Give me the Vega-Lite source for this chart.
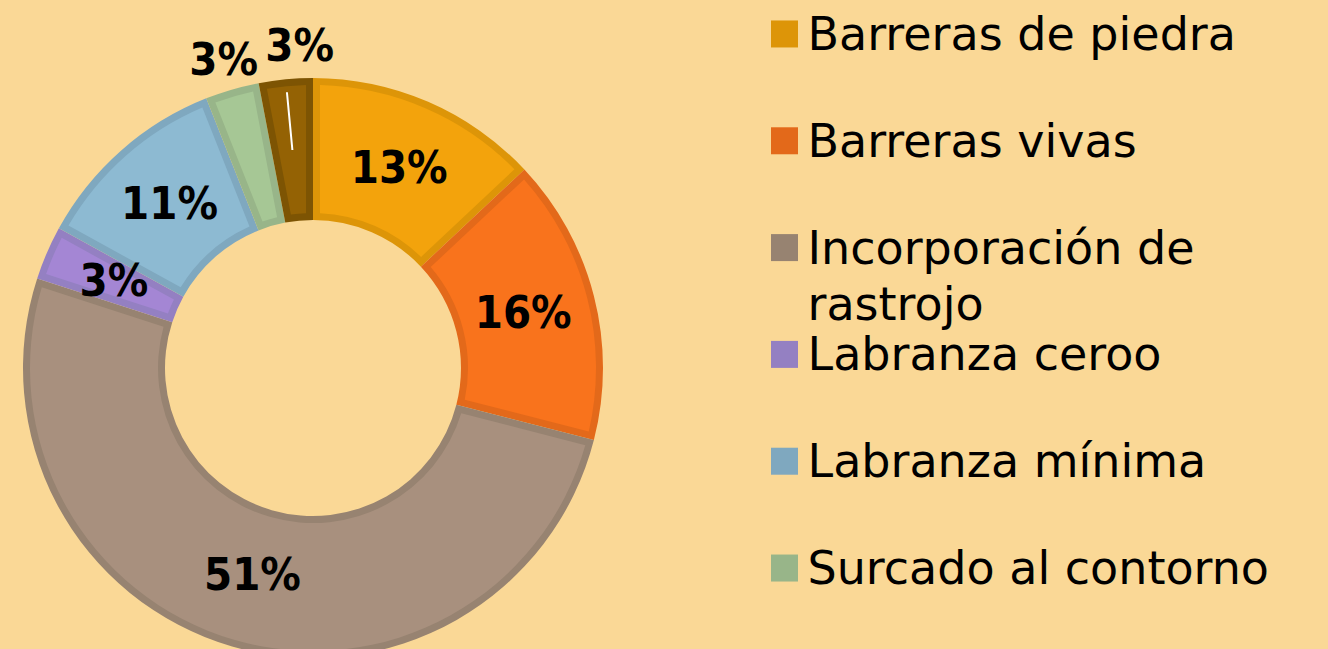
{
  "$schema": "https://vega.github.io/schema/vega-lite/v6.json",
  "padding": {"left": 0, "top": 0, "right": 75, "bottom": 0},
  "autosize": {"type": "pad"},
  "background": "#FAD896",
  "spacing": 144,
  "bounds": "flush",
  "config": {"view": {"stroke": null}},
  "datasets": {
    "practicas": [
      {"categoria": "Barreras de piedra", "porcentaje": 0.13, "orden": 1},
      {"categoria": "Barreras vivas", "porcentaje": 0.16, "orden": 2},
      {"categoria": "Incorporación de rastrojo", "porcentaje": 0.51, "orden": 3},
      {"categoria": "Labranza ceroo", "porcentaje": 0.03, "orden": 4},
      {"categoria": "Labranza mínima", "porcentaje": 0.11, "orden": 5},
      {"categoria": "Surcado al contorno", "porcentaje": 0.03, "orden": 6},
      {"categoria": "Otros", "porcentaje": 0.03, "orden": 7}
    ]
  },
  "hconcat": [
    {
      "width": 626,
      "height": 736,
      "data": {"name": "practicas"},
      "encoding": {
        "theta": {"field": "porcentaje", "type": "quantitative", "stack": true},
        "order": {"field": "orden", "type": "quantitative"}
      },
      "layer": [
        {
          "mark": {"type": "arc", "radius": 290, "radius2": 148},
          "encoding": {
            "color": {
              "field": "categoria",
              "type": "nominal",
              "scale": {
                "domain": ["Barreras de piedra", "Barreras vivas", "Incorporación de rastrojo", "Labranza ceroo", "Labranza mínima", "Surcado al contorno", "Otros"],
                "range": ["#DD9508", "#E3691A", "#978371", "#9480C2", "#7FA8BF", "#98B589", "#7D5403"]
              },
              "legend": null
            }
          }
        },
        {
          "mark": {"type": "arc", "radius": 283, "radius2": 155, "padAngle": 0.0434},
          "encoding": {
            "fill": {
              "field": "categoria",
              "type": "nominal",
              "scale": {
                "domain": ["Barreras de piedra", "Barreras vivas", "Incorporación de rastrojo", "Labranza ceroo", "Labranza mínima", "Surcado al contorno", "Otros"],
                "range": ["#F3A30C", "#F9731C", "#A8907E", "#A486D4", "#8DBAD2", "#A6C795", "#946204"]
              },
              "legend": null
            }
          }
        },
        {
          "mark": {"type": "arc", "radius": 277, "radius2": 219, "padAngle": 1, "fillOpacity": 0, "stroke": "#FFFFFF", "strokeWidth": 2},
          "encoding": {
            "strokeOpacity": {"condition": {"test": "datum.orden == 7", "value": 1}, "value": 0}
          }
        },
        {
          "mark": {"type": "text", "radius": 217, "font": "DejaVu Sans Condensed", "fontSize": 45, "fontWeight": "bold", "color": "#000000"},
          "encoding": {
            "text": {"condition": {"test": "datum.orden >= 6", "value": ""}, "field": "porcentaje", "type": "quantitative", "format": ".0%"}
          }
        },
        {
          "mark": {"type": "text", "radius": 320, "font": "DejaVu Sans Condensed", "fontSize": 45, "fontWeight": "bold", "color": "#000000"},
          "encoding": {
            "text": {"condition": {"test": "datum.orden != 6", "value": ""}, "field": "porcentaje", "type": "quantitative", "format": ".0%"}
          }
        },
        {
          "mark": {"type": "text", "radius": 322, "dx": 17, "font": "DejaVu Sans Condensed", "fontSize": 45, "fontWeight": "bold", "color": "#000000"},
          "encoding": {
            "text": {"condition": {"test": "datum.orden != 7", "value": ""}, "field": "porcentaje", "type": "quantitative", "format": ".0%"}
          }
        }
      ]
    },
    {
      "width": 29,
      "height": 602,
      "data": {"name": "practicas"},
      "transform": [
        {"filter": "datum.orden <= 6"},
        {"calculate": "replace(datum.categoria, ' rastrojo', '\\nrastrojo')", "as": "etiqueta"}
      ],
      "encoding": {
        "y": {
          "field": "categoria",
          "type": "nominal",
          "scale": {
            "domain": ["Barreras de piedra", "Barreras vivas", "Incorporación de rastrojo", "Labranza ceroo", "Labranza mínima", "Surcado al contorno"],
            "padding": 0.318
          },
          "axis": null
        }
      },
      "layer": [
        {
          "mark": {"type": "square", "size": 729, "opacity": 1, "filled": true},
          "encoding": {
            "color": {
              "field": "categoria",
              "type": "nominal",
              "scale": {
                "domain": ["Barreras de piedra", "Barreras vivas", "Incorporación de rastrojo", "Labranza ceroo", "Labranza mínima", "Surcado al contorno", "Otros"],
                "range": ["#DD9508", "#E3691A", "#978371", "#9480C2", "#7FA8BF", "#98B589", "#7D5403"]
              },
              "legend": null
            }
          }
        },
        {
          "mark": {"type": "text", "align": "left", "baseline": "alphabetic", "dx": 23, "dy": 16, "font": "DejaVu Sans", "fontSize": 46, "color": "#000000", "lineBreak": "\n", "lineHeight": 56},
          "encoding": {
            "text": {"field": "etiqueta", "type": "nominal"}
          }
        }
      ]
    }
  ]
}
